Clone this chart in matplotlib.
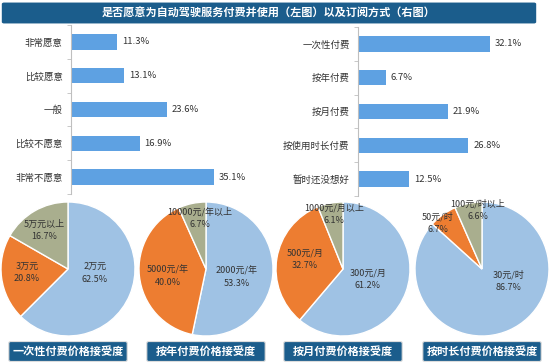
import numpy as np
import matplotlib
matplotlib.use('Agg')
import matplotlib.pyplot as plt
from matplotlib.patches import FancyBboxPatch

plt.rcParams['font.family'] = ['Noto Sans CJK SC', 'DejaVu Sans']

# data
title = '是否愿意为自动驾驶服务付费并使用（左图）以及订阅方式（右图）'
will_cats = ['非常愿意', '比较愿意', '一般', '比较不愿意', '非常不愿意']
will_vals = [11.3, 13.1, 23.6, 16.9, 35.1]
mode_cats = ['一次性付费', '按年付费', '按月付费', '按使用时长付费', '暂时还没想好']
mode_vals = [32.1, 6.7, 21.9, 26.8, 12.5]

pie_titles = ['一次性付费价格接受度', '按年付费价格接受度', '按月付费价格接受度', '按时长付费价格接受度']
pie_labels = [
    ['2万元', '3万元', '5万元以上'],
    ['2000元/年', '5000元/年', '10000元/年以上'],
    ['300元/月', '500元/月', '1000元/月以上'],
    ['30元/时', '50元/时', '100元/时以上'],
]
pie_vals = [
    [62.5, 20.8, 16.7],
    [53.3, 40.0, 6.7],
    [61.2, 32.7, 6.1],
    [86.7, 6.7, 6.6],
]

# layout (pixels)
W, H = 550, 363
DARK = '#1b5d8c'
BAR = '#5ea1e2'
PIE_COLORS = ['#9fc2e4', '#ed7d31', '#a9ae8e']
TXT = '#333333'

# label spots inside each pie (unit radius)
pie_text_pos = [
    [(0.40, -0.06), (-0.61, -0.05), (-0.36, 0.58)],
    [(0.46, -0.12), (-0.57, -0.10), (-0.09, 0.76)],
    [(0.37, -0.16), (-0.57, 0.15), (-0.13, 0.82)],
    [(0.39, -0.18), (-0.66, 0.68), (-0.06, 0.88)],
]
pie_centers = [68, 206, 343, 482]


def px_axes(fig, x0, y0, w, h):
    return fig.add_axes([x0 / W, 1 - (y0 + h) / H, w / W, h / H])


fig = plt.figure(figsize=(W / 100, H / 100), dpi=100)

# title bar
fig.patches.append(FancyBboxPatch((4 / W, 1 - 22 / H), 530 / W, 18 / H,
                                  boxstyle='round,pad=0.004', transform=fig.transFigure,
                                  facecolor=DARK, edgecolor='none'))
fig.text(269 / W, 1 - 13 / H, title, color='white', fontsize=8, fontweight='bold',
         ha='center', va='center')


def bar_panel(ax, cats, vals):
    y = np.arange(len(cats))
    ax.barh(y, vals, height=0.45, color=BAR)
    for yi, v in zip(y, vals):
        ax.text(v + 1.2, yi, f'{v:.1f}%', va='center', ha='left', fontsize=6.8, color=TXT)
    ax.set_xlim(0, 45)
    ax.set_ylim(len(cats) - 0.5, -0.5)
    ax.set_yticks(y)
    ax.set_yticklabels(cats, fontsize=6.8, color=TXT)
    ax.set_yticks(np.arange(-0.5, len(cats)), minor=True)
    ax.tick_params(axis='y', which='major', length=0, pad=6)
    ax.tick_params(axis='y', which='minor', length=3, color='#bfbfbf')
    ax.set_xticks([])
    for s in ['top', 'right', 'bottom']:
        ax.spines[s].set_visible(False)
    ax.spines['left'].set_color('#bfbfbf')


bar_panel(px_axes(fig, 71, 25, 183, 169), will_cats, will_vals)
bar_panel(px_axes(fig, 358, 27, 185, 169), mode_cats, mode_vals)

# pies
R = 67
for i in range(4):
    cx = pie_centers[i]
    ax = px_axes(fig, cx - R, 269 - R, 2 * R, 2 * R)
    wedges, _ = ax.pie(pie_vals[i], colors=PIE_COLORS, startangle=90, counterclock=False,
                       wedgeprops=dict(edgecolor='white', linewidth=1))
    for w in wedges:
        w.set_clip_on(False)
    ax.set_xlim(-1, 1)
    ax.set_ylim(-1, 1)
    for (tx, ty), lab, v in zip(pie_text_pos[i], pie_labels[i], pie_vals[i]):
        ax.text(tx, ty, f'{lab}\n{v:.1f}%', ha='center', va='center', fontsize=6.5,
                color=TXT, linespacing=1.5)

    # caption box
    bx = cx - 57
    fig.patches.append(FancyBboxPatch((bx / W, 1 - 360 / H), 114 / W, 17 / H,
                                      boxstyle='round,pad=0.004', transform=fig.transFigure,
                                      facecolor=DARK, edgecolor='#dddddd', linewidth=0.8))
    fig.text(cx / W, 1 - 351.5 / H, pie_titles[i], color='white', fontsize=8,
             fontweight='bold', ha='center', va='center')

fig.savefig('out.png', dpi=100)
